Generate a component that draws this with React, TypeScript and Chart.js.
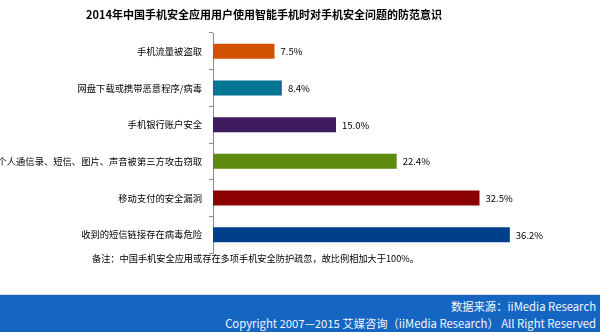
import React, { useEffect, useRef } from "react";
import { Chart, registerables } from "chart.js";

Chart.register(...registerables);

const TITLE = "2014年中国手机安全应用用户使用智能手机时对手机安全问题的防范意识";
const NOTE = "备注：中国手机安全应用或存在多项手机安全防护疏忽，故比例相加大于100%。";
const SOURCE = "数据来源：iiMedia Research";
const COPYRIGHT = "Copyright 2007—2015 艾媒咨询（iiMedia Research） All Right Reserved";

const categories = [
  "手机流量被盗取",
  "网盘下载或携带恶意程序/病毒",
  "手机银行账户安全",
  "个人通信录、短信、图片、声音被第三方攻击窃取",
  "移动支付的安全漏洞",
  "收到的短信链接存在病毒危险",
];
const values = [7.5, 8.4, 15.0, 22.4, 32.5, 36.2];
const barColors = ["#d35400", "#007491", "#3f1b60", "#5f8a10", "#8b0000", "#00408a"];

const CJK = '"Noto Sans CJK SC", "Noto Sans", sans-serif';

const valueLabelPlugin = {
  id: "valueLabels",
  afterDatasetsDraw(chart: any) {
    const ctx = chart.ctx;
    const meta = chart.getDatasetMeta(0);
    ctx.save();
    ctx.font = `9.5px ${CJK}`;
    ctx.fillStyle = "#000";
    ctx.textAlign = "left";
    ctx.textBaseline = "middle";
    meta.data.forEach((bar: any, i: number) => {
      ctx.fillText(values[i].toFixed(1) + "%", bar.x + 6, bar.y + 0.5);
    });
    ctx.restore();
  },
};

export default function App() {
  const canvasRef = useRef<HTMLCanvasElement | null>(null);

  useEffect(() => {
    document.body.style.margin = "0";
    const chart = new Chart(canvasRef.current!, {
      type: "bar",
      data: {
        labels: categories,
        datasets: [
          {
            data: values,
            backgroundColor: barColors,
            borderWidth: 0,
            categoryPercentage: 1,
            barPercentage: 0.41,
          },
        ],
      },
      options: {
        indexAxis: "y",
        animation: false,
        responsive: false,
        maintainAspectRatio: false,
        layout: { padding: { top: 33, bottom: 79, left: 0, right: 59 } },
        plugins: {
          legend: { display: false },
          title: { display: false },
          tooltip: { enabled: false },
        },
        scales: {
          x: { display: false, min: 0, max: 40 },
          y: {
            afterFit: (scale: any) => {
              scale.width = 213;
            },
            border: { display: true, color: "#8c8c8c", width: 1 },
            grid: {
              offset: true,
              drawOnChartArea: false,
              drawTicks: true,
              tickLength: 4,
              color: "#8c8c8c",
            },
            ticks: {
              padding: 7,
              color: "#000",
              font: { family: CJK, size: 9.3 },
            },
          },
        },
      },
      plugins: [valueLabelPlugin],
    });
    return () => chart.destroy();
  }, []);

  return (
    <div style={{ position: "fixed", left: 0, top: 0, width: 600, height: 332, background: "#fff", overflow: "hidden" }}>
      <canvas ref={canvasRef} width={600} height={332} style={{ position: "absolute", left: 0, top: 0 }} />
      <div
        style={{
          position: "absolute",
          left: 86,
          top: 7,
          font: `bold 11px ${CJK}`,
          lineHeight: "14px",
          whiteSpace: "nowrap",
          color: "#000",
        }}
      >
        {TITLE}
      </div>
      <div
        style={{
          position: "absolute",
          left: 92,
          top: 251,
          font: `9.2px ${CJK}`,
          lineHeight: "14px",
          whiteSpace: "nowrap",
          color: "#000",
        }}
      >
        {NOTE}
      </div>
      <div
        style={{
          position: "absolute",
          left: 0,
          top: 294,
          width: 600,
          height: 38,
          background: "#1565c2",
          borderTop: "1px solid #dcdcdc",
          boxSizing: "border-box",
        }}
      >
        <div
          style={{
            position: "absolute",
            right: 4,
            top: 3,
            font: `11.3px ${CJK}`,
            lineHeight: "17px",
            color: "#f4f7fc",
            textAlign: "right",
            whiteSpace: "nowrap",
          }}
        >
          <div>{SOURCE}</div>
          <div>{COPYRIGHT}</div>
        </div>
      </div>
    </div>
  );
}
